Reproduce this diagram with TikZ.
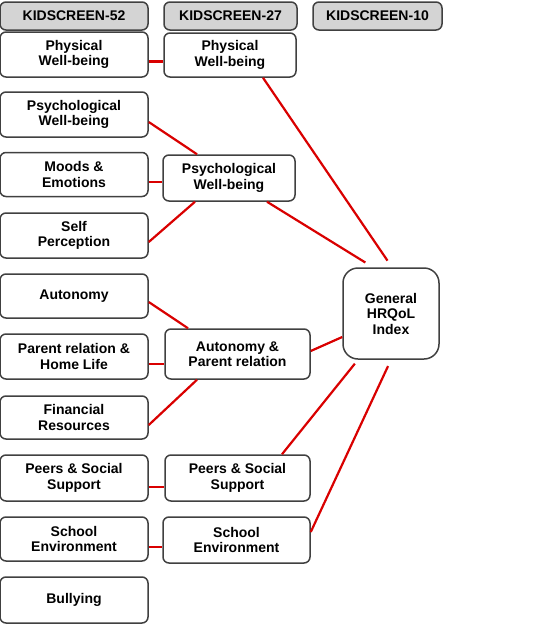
\documentclass[tikz,border=0pt]{standalone}
\usepackage{fontspec}
\setmainfont{Liberation Sans}
\begin{document}
\begin{tikzpicture}[x=1pt, y=1pt,
  every node/.style={draw=black!75, line width=1.5pt, rounded corners=6pt, fill=white,
    align=center, inner sep=0pt, font=\bfseries\fontsize{14}{15.5}\selectfont},
  head/.style={fill=black!17, minimum height=28pt},
  box/.style={minimum width=148pt, minimum height=45pt},
  link/.style={draw=red!85!black, line width=2.2pt}]

  \useasboundingbox (0,0) rectangle (545,-643);

  % column headings
  \node[head, minimum width=148pt] (h52) at (74,-16) {KIDSCREEN-52};
  \node[head, minimum width=133pt] (h27) at (230.5,-16) {KIDSCREEN-27};
  \node[head, minimum width=129pt] (h10) at (377.5,-16) {KIDSCREEN-10};

  % KIDSCREEN-52
  \node[box] (pw1) at (74,-54.5) {Physical\\Well-being};
  \node[box] (psy1) at (74,-114.5) {Psychological\\Well-being};
  \node[box, minimum height=44pt] (mood) at (74,-174.5) {Moods \&\\Emotions};
  \node[box] (self) at (74,-235.5) {Self\\Perception};
  \node[box, minimum height=44pt] (auto) at (74,-296) {Autonomy};
  \node[box] (par) at (74,-356.5) {Parent relation \&\\Home Life};
  \node[box, minimum height=43pt] (fin) at (74,-417.5) {Financial\\Resources};
  \node[box, minimum height=46pt] (peer1) at (74,-478) {Peers \& Social\\Support};
  \node[box, minimum height=44pt] (sch1) at (74,-539) {School\\Environment};
  \node[box, minimum height=46pt] (bul) at (74,-600) {Bullying};

  % KIDSCREEN-27
  \node[box, minimum width=132pt, minimum height=44pt] (pw2) at (230,-55) {Physical\\Well-being};
  \node[box, minimum width=132pt, minimum height=46pt] (psy2) at (229,-178) {Psychological\\Well-being};
  \node[box, minimum width=145pt, minimum height=50pt] (ap) at (237.5,-354) {Autonomy \&\\Parent relation};
  \node[box, minimum width=145pt, minimum height=46pt] (peer2) at (237.5,-478) {Peers \& Social\\Support};
  \node[box, minimum width=147pt, minimum height=46pt] (sch2) at (236.5,-540) {School\\Environment};

  % KIDSCREEN-10
  \node[minimum width=96pt, minimum height=91pt, rounded corners=15pt] (gen) at (391,-313.5) {General\\HRQoL\\Index};

  % links
  \draw[link] ([yshift=-7pt]pw1.east) -- ([yshift=-6.5pt]pw2.west);
  \draw[link] ([yshift=-7.5pt]psy1.east) -- ([xshift=-32pt]psy2.north);
  \draw[link] ([yshift=-7.5pt]mood.east) -- ([yshift=-4pt]psy2.west);
  \draw[link] ([yshift=-6.5pt]self.east) -- ([xshift=-34pt]psy2.south);
  \draw[link] ([yshift=-6pt]auto.east) -- ([xshift=-49.5pt]ap.north);
  \draw[link] ([yshift=-7.5pt]par.east) -- ([yshift=-10pt]ap.west);
  \draw[link] ([yshift=-7.5pt]fin.east) -- ([xshift=-40.5pt]ap.south);
  \draw[link] ([yshift=-9pt]peer1.east) -- ([yshift=-9pt]peer2.west);
  \draw[link] ([yshift=-8pt]sch1.east) -- ([yshift=-7pt]sch2.west);
  \draw[link, shorten >=8pt] ([xshift=33pt]pw2.south) -- ([xshift=1pt]gen.north);
  \draw[link, shorten >=9pt] ([xshift=38pt]psy2.south) -- ([xshift=-18pt]gen.north);
  \draw[link] ([yshift=3pt]ap.east) -- ([yshift=-23.5pt]gen.west);
  \draw[link, shorten <=5pt] ([xshift=-33pt]gen.south) -- ([xshift=44.5pt]peer2.north);
  \draw[link, shorten <=7pt] ([xshift=0pt]gen.south) -- ([yshift=8pt]sch2.east);
\end{tikzpicture}
\end{document}
